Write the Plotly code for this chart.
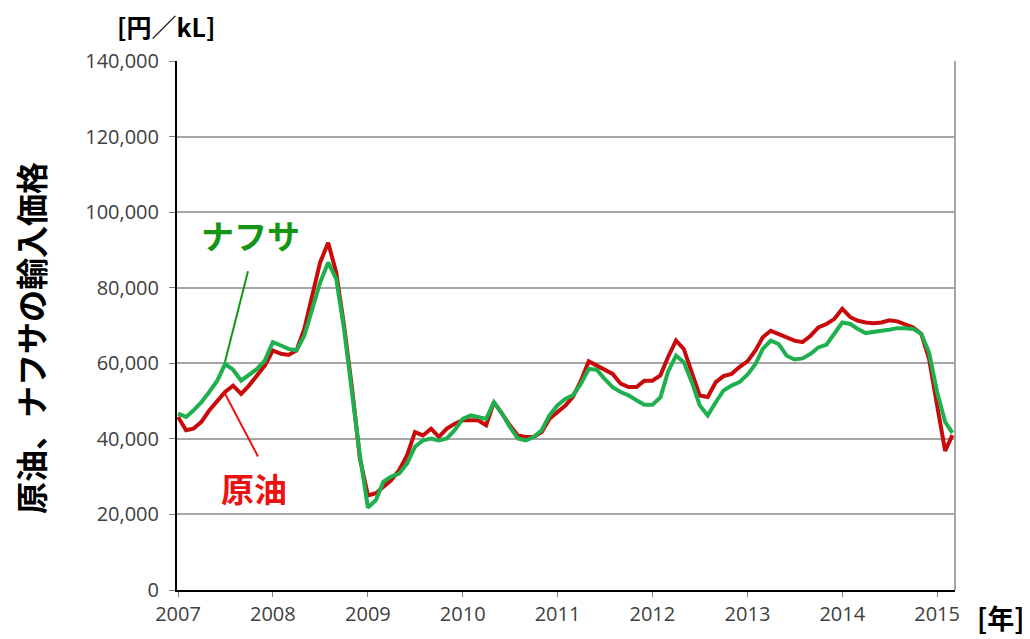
import pandas as pd
import plotly.graph_objects as go

# monthly import prices, yen/kL, Jan 2007 - Mar 2015
months = pd.date_range('2007-01-01', '2015-03-01', freq='MS')

crude = [
    45800, 42300, 42700, 44500, 47500, 50200, 52400, 54100, 51900, 54100, 56800, 59400,
    63400, 62500, 62200, 63400, 69100, 77900, 86700, 91900, 84000, 70000, 53300, 34800,
    25000, 25600, 27300, 29100, 31700, 35700, 41800, 40900, 42700, 40500, 42700, 44000,
    44900, 44900, 44900, 43600, 49700, 46700, 43600, 40900, 40500, 40500, 41800, 45300,
    47200, 48900, 51100, 55400, 60500, 59400, 58100, 57200, 54600, 53700, 53700, 55400,
    55400, 56800, 61600, 66000, 63800, 57700, 51500, 51100, 55000, 56600, 57200, 59000,
    60500, 63400, 66900, 68600, 67800, 66900, 66000, 65600, 67300, 69500, 70400, 71700,
    74400, 72200, 71300, 70800, 70600, 70800, 71400, 71100, 70400, 69500, 67800, 61200,
    48900, 36800, 41000,
]

naphtha = [
    46700, 45800, 47500, 49700, 52400, 55400, 59800, 58300, 55400, 56800, 58500, 60700,
    65600, 64700, 63800, 63400, 67300, 74400, 81400, 86700, 82300, 69100, 52400, 35700,
    21800, 23800, 28600, 30000, 30800, 33500, 37900, 39600, 40100, 39600, 40100, 42300,
    45300, 46200, 45800, 45300, 49700, 46700, 43200, 40100, 39600, 40500, 42300, 46200,
    48900, 50600, 51500, 54600, 58500, 58300, 55900, 53700, 52400, 51500, 50200, 49000,
    49000, 51000, 57700, 62000, 60300, 55000, 48900, 46200, 49700, 52800, 54100, 55000,
    57000, 59800, 63800, 66000, 65100, 62000, 61000, 61300, 62500, 64200, 64900, 67800,
    70800, 70400, 69100, 68000, 68200, 68600, 68900, 69300, 69300, 69100, 67800, 62900,
    52400, 44500, 41600,
]

years = [str(y) for y in range(2007, 2016)]

# page body has an 8px margin, so the figure is drawn 8px smaller and offset
OFF = 8
W, H = 1030 - OFF, 639 - OFF
# plot area in page pixels
L, R, T, B = 177, 955, 61, 592


def px(x, y):
    return (x - L) / (R - L), (B - y) / (B - T)


fig = go.Figure()
fig.add_trace(go.Scatter(x=months, y=crude, mode='lines', name='原油',
                         line=dict(color='#c80a0a', width=4)))
fig.add_trace(go.Scatter(x=months, y=naphtha, mode='lines', name='ナフサ',
                         line=dict(color='#1eb04e', width=4)))

jp = 'Noto Sans CJK JP'
num_font = dict(family='Open Sans', size=20, color='#404040')

fig.update_layout(
    width=W, height=H,
    margin=dict(l=L - OFF, r=1030 - R, t=T - OFF, b=639 - B),
    paper_bgcolor='white', plot_bgcolor='white',
    showlegend=False,
    xaxis=dict(
        type='date',
        range=['2006-12-28', '2015-03-11'],
        tickvals=[y + '-01-01' for y in years],
        ticktext=years,
        ticks='outside', ticklen=5, tickcolor='#808080',
        showline=True, linecolor='black', linewidth=2,
        showgrid=False, zeroline=False,
        tickfont=num_font,
    ),
    yaxis=dict(
        range=[0, 140000],
        dtick=20000,
        tickformat=',d',
        ticks='outside', ticklen=6, tickcolor='#808080',
        showline=True, linecolor='black', linewidth=2,
        showgrid=True, gridcolor='#a6a6a6', gridwidth=2,
        zeroline=False,
        tickfont=num_font,
        ticklabelstandoff=6,
    ),
)

# grey right border of plot area
fig.add_shape(type='line', xref='x domain', yref='y domain', x0=1, x1=1, y0=0, y1=1,
              line=dict(color='#a6a6a6', width=2))

# callout lines
gx0, gy0 = px(248, 272)
gx1, gy1 = px(225, 363)
fig.add_shape(type='line', xref='paper', yref='paper', x0=gx0, y0=gy0, x1=gx1, y1=gy1,
              line=dict(color='#119911', width=2))
rx0, ry0 = px(225, 395)
rx1, ry1 = px(258, 458)
fig.add_shape(type='line', xref='paper', yref='paper', x0=rx0, y0=ry0, x1=rx1, y1=ry1,
              line=dict(color='#ee1111', width=2))


def label(text, x, y, size, color, angle=0):
    ax, ay = px(x, y)
    fig.add_annotation(text=text, xref='paper', yref='paper', x=ax, y=ay,
                       xanchor='center', yanchor='middle', showarrow=False,
                       textangle=angle, borderpad=0,
                       font=dict(family=jp, size=size, color=color, weight='bold'))


label('ナフサ', 250, 236, 33, '#149614')
label('原油', 254, 490, 33, '#ee1111')
label('[円／kL]', 166, 26, 25, 'black')
label('[年]', 1000, 620, 27, 'black')
label('原油、ナフサの輸入価格', 30, 339, 32, 'black', angle=-90)

fig.write_html('out.html')
